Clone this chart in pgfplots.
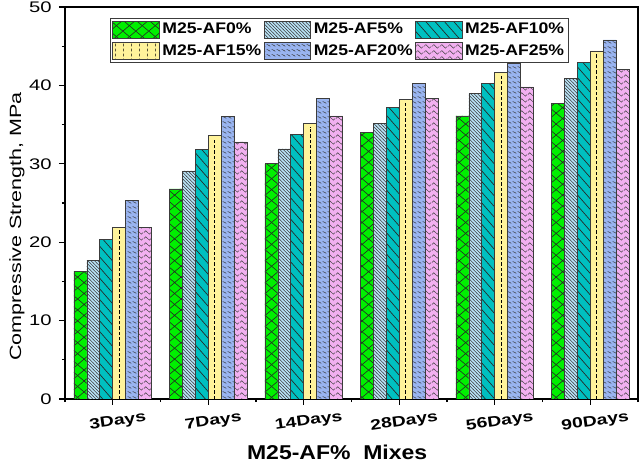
\documentclass[border=0pt]{standalone}
\usepackage{fontspec}
\setmainfont{Liberation Sans}[FakeStretch=1.3]
\newfontfamily\tickf{Liberation Sans}[FakeStretch=1.32]
\newfontfamily\legf{Liberation Sans}[FakeStretch=1.15]
\usepackage{pgfplots}
\pgfplotsset{compat=1.18}
\usetikzlibrary{patterns}

\definecolor{cg}{RGB}{0,240,0}
\definecolor{clb}{RGB}{185,228,248}
\definecolor{ct}{RGB}{0,192,192}
\definecolor{cy}{RGB}{255,243,155}
\definecolor{cb}{RGB}{153,180,240}
\definecolor{cp}{RGB}{242,176,240}
\definecolor{bdr}{RGB}{60,60,60}

% green: diagonal crosshatch
\pgfdeclarepatternformonly{xhatch}{\pgfqpoint{-1pt}{-1pt}}{\pgfqpoint{10.7pt}{9.2pt}}{\pgfqpoint{9.7pt}{8.2pt}}{%
  \pgfsetlinewidth{0.45pt}%
  \pgfpathmoveto{\pgfqpoint{0pt}{0pt}}\pgfpathlineto{\pgfqpoint{9.7pt}{8.2pt}}%
  \pgfpathmoveto{\pgfqpoint{0pt}{8.2pt}}\pgfpathlineto{\pgfqpoint{9.7pt}{0pt}}%
  \pgfusepath{stroke}}
% light blue: dense back-diagonal lines
\pgfdeclarepatternformonly{densediag}{\pgfqpoint{-0.5pt}{-0.5pt}}{\pgfqpoint{3pt}{3pt}}{\pgfqpoint{2.5pt}{2.5pt}}{%
  \pgfsetlinewidth{0.4pt}%
  \pgfpathmoveto{\pgfqpoint{-0.2pt}{2.7pt}}\pgfpathlineto{\pgfqpoint{2.7pt}{-0.2pt}}%
  \pgfusepath{stroke}}
% teal: sparse steep back-diagonal lines
\pgfdeclarepatternformonly{sparsediag}{\pgfqpoint{-0.5pt}{-0.5pt}}{\pgfqpoint{7.5pt}{8.5pt}}{\pgfqpoint{7pt}{8pt}}{%
  \pgfsetlinewidth{0.5pt}%
  \pgfpathmoveto{\pgfqpoint{0pt}{8pt}}\pgfpathlineto{\pgfqpoint{7pt}{0pt}}%
  \pgfusepath{stroke}}
% yellow legend: vertical dashes
\pgfdeclarepatternformonly{vdash}{\pgfqpoint{0pt}{0pt}}{\pgfqpoint{6pt}{3.5pt}}{\pgfqpoint{6pt}{3.5pt}}{%
  \pgfsetlinewidth{0.5pt}%
  \pgfpathmoveto{\pgfqpoint{3pt}{0.5pt}}\pgfpathlineto{\pgfqpoint{3pt}{2.6pt}}%
  \pgfusepath{stroke}}
% blue: small squiggles
\pgfdeclarepatternformonly{squig}{\pgfqpoint{0pt}{0pt}}{\pgfqpoint{4pt}{4pt}}{\pgfqpoint{4pt}{4pt}}{%
  \pgfsetlinewidth{0.4pt}%
  \pgfpathmoveto{\pgfqpoint{0.5pt}{2.8pt}}%
  \pgfpathcurveto{\pgfqpoint{1.3pt}{3.6pt}}{\pgfqpoint{1.6pt}{1.8pt}}{\pgfqpoint{2.2pt}{2.2pt}}%
  \pgfpathcurveto{\pgfqpoint{2.8pt}{2.6pt}}{\pgfqpoint{3pt}{1.2pt}}{\pgfqpoint{3.6pt}{1.3pt}}%
  \pgfusepath{stroke}}
% pink: waves
\pgfdeclarepatternformonly{wave}{\pgfqpoint{0pt}{0pt}}{\pgfqpoint{6pt}{4.5pt}}{\pgfqpoint{6pt}{4.5pt}}{%
  \pgfsetlinewidth{0.4pt}%
  \pgfpathmoveto{\pgfqpoint{0pt}{2.2pt}}%
  \pgfpathcurveto{\pgfqpoint{1pt}{4.2pt}}{\pgfqpoint{2pt}{4.2pt}}{\pgfqpoint{3pt}{2.2pt}}%
  \pgfpathcurveto{\pgfqpoint{4pt}{0.2pt}}{\pgfqpoint{5pt}{0.2pt}}{\pgfqpoint{6pt}{2.2pt}}%
  \pgfusepath{stroke}}

\pgfplotsset{mybarlegend/.style={legend image code/.code={\draw[##1] (0pt,-6.3pt) rectangle (35pt,6.3pt);}}}

\begin{document}
\begin{tikzpicture}
\begin{axis}[name=ax, scale only axis, width=429.75pt, height=294pt,
  xmin=-0.5, xmax=5.5, ymin=0, ymax=50,
  ybar, bar width=9.7pt,
  xtick={0,1,2,3,4,5},
  xticklabels={3Days,7Days,14Days,28Days,56Days,90Days},
  minor xtick={-0.5,0.5,1.5,2.5,3.5,4.5,5.5},
  ytick={0,10,20,30,40,50}, minor ytick={5,15,25,35,45},
  tick align=outside, tick pos=left,
  major tick length=4.5pt, minor tick length=2.3pt,
  every tick/.style={black, line width=0.8pt},
  axis line style={line width=1.5pt},
  /pgf/number format/assume math mode=true,
  yticklabel style={font=\tickf\fontsize{11.5}{13}\selectfont, xshift=-2pt},
  xticklabel style={font=\tickf\bfseries\fontsize{11}{13}\selectfont, rotate=8, anchor=north, xshift=2pt, yshift=-4.5pt},
  ylabel={Compressive Strength, MPa},
  ylabel style={font=\tickf\fontsize{12.2}{14}\selectfont, at={(axis description cs:-0.084,0.44)}, anchor=center, rotate=0},
  xlabel={M25-AF\%~~Mixes},
  xlabel style={font=\legf\bfseries\fontsize{15}{17}\selectfont, at={(axis description cs:0.475,-0.135)}, anchor=center},
  every axis plot post/.append style={mybarlegend},
  legend columns=3,
  legend cell align=left,
  legend style={at={(0.0785,0.972)}, anchor=north west, draw=bdr, line width=0.7pt,
    font=\legf\bfseries\fontsize{11.5}{12}\selectfont, inner sep=1.5pt, row sep=2.8pt,
    /tikz/every even column/.style={column sep=0pt}},
]
\addplot[fill=cg, draw=bdr, line width=0.5pt, bar shift=-24.25pt, postaction={pattern=xhatch, pattern color=black!85}]
  coordinates {(0,16.3) (1,26.8) (2,30.0) (3,34.0) (4,36.1) (5,37.7)};
\addlegendentry{\makebox[74pt][l]{M25-AF0\%}}
\addplot[fill=clb, draw=bdr, line width=0.5pt, bar shift=-14.55pt, postaction={pattern=densediag, pattern color=black!75}]
  coordinates {(0,17.7) (1,29.1) (2,31.9) (3,35.2) (4,39.0) (5,40.9)};
\addlegendentry{\makebox[74pt][l]{M25-AF5\%}}
\addplot[fill=ct, draw=bdr, line width=0.5pt, bar shift=-4.85pt, postaction={pattern=sparsediag, pattern color=black!85}]
  coordinates {(0,20.4) (1,31.8) (2,33.7) (3,37.2) (4,40.3) (5,42.9)};
\addlegendentry{\makebox[74pt][l]{M25-AF10\%}}
\addplot[fill=cy, draw=bdr, line width=0.5pt, bar shift=4.85pt, forget plot]
  coordinates {(0,21.9) (1,33.6) (2,35.1) (3,38.2) (4,41.7) (5,44.4)};
\addlegendimage{fill=cy, draw=bdr, line width=0.5pt, postaction={pattern=vdash, pattern color=black}, mybarlegend}
\addlegendentry{\makebox[74pt][l]{M25-AF15\%}}
\addplot[fill=cb, draw=bdr, line width=0.5pt, bar shift=14.55pt, postaction={pattern=squig, pattern color=black!80}]
  coordinates {(0,25.3) (1,36.0) (2,38.3) (3,40.3) (4,42.8) (5,45.8)};
\addlegendentry{\makebox[74pt][l]{M25-AF20\%}}
\addplot[fill=cp, draw=bdr, line width=0.5pt, bar shift=24.25pt, postaction={pattern=wave, pattern color=black!75}]
  coordinates {(0,21.9) (1,32.8) (2,36.1) (3,38.3) (4,39.8) (5,42.0)};
\addlegendentry{\makebox[74pt][l]{M25-AF25\%}}
% dashed centre line of the yellow bars
\addplot[ycomb, forget plot, black, line width=0.6pt, dash pattern=on 2.5pt off 1.5pt, mark=none]
  coordinates {(0.0677,21.5) (1.0677,33.2) (2.0677,34.7) (3.0677,37.8) (4.0677,41.3) (5.0677,44.0)};
\end{axis}
\pgfresetboundingbox
\path ([shift={(-48.75pt,-48pt)}]ax.south west) rectangle ([shift={(1.5pt,5.25pt)}]ax.north east);
\end{tikzpicture}
\end{document}
